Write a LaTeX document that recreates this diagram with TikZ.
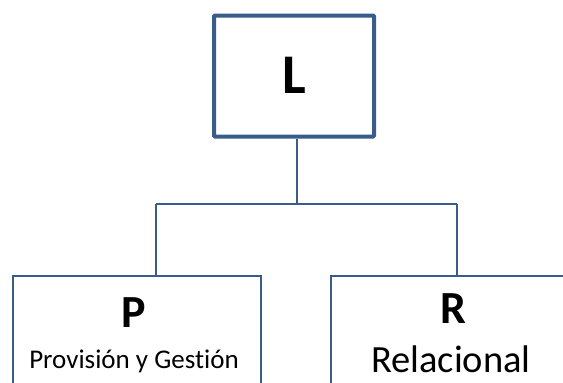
\documentclass[tikz,border=0pt]{standalone}
\usepackage{fontspec}
\setmainfont{Carlito}[Ligatures=NoCommon]
\usetikzlibrary{calc}
\definecolor{boxblue}{HTML}{385D8A}
\begin{document}
\begin{tikzpicture}[x=1pt,y=-1pt,
  box/.style={draw=boxblue,fill=white,line width=1.5pt,inner sep=0pt,anchor=north west},
  link/.style={draw=boxblue,line width=1.5pt},
  txt/.style={inner sep=0pt,anchor=base}]
\useasboundingbox (0,0) rectangle (563,383);
\begin{scope}
\clip (0,0) rectangle (563,383);
% top box
\node[box,line width=4pt,rounded corners=1pt,minimum width=160pt,minimum height=121pt] (L) at (212,13.5) {};
\node[txt,font=\fontsize{56}{56}\selectfont\bfseries] (Ltxt) at (294,93) {L};
% lower boxes, running past the page edge
\node[box,minimum width=248pt,minimum height=130pt] (P) at (12,275) {};
\node[box,minimum width=260pt,minimum height=130pt] (R) at (330,275) {};
\node[txt,font=\fontsize{46}{46}\selectfont\bfseries] (Ptxt) at (134,327) {P};
\node[txt,font=\fontsize{46}{46}\selectfont\bfseries] (Rtxt) at (453,323) {R};
\node[txt,font=\fontsize{27}{27}\selectfont] (Psub) at (134,368) {Provisión y Gestión};
\node[txt,font=\fontsize{38.5}{38.5}\selectfont] (Rsub) at (451,372) {Relacional};
% connectors
\coordinate (j) at (297,204);
\coordinate (jl) at (156,204);
\coordinate (jr) at (457,204);
\draw[link] (L.south -| j) -- (j);
\draw[link] (jl) -- (jr);
\draw[link] (jl) -- (jl |- P.north);
\draw[link] (jr) -- (jr |- R.north);
\end{scope}
\end{tikzpicture}
\end{document}
